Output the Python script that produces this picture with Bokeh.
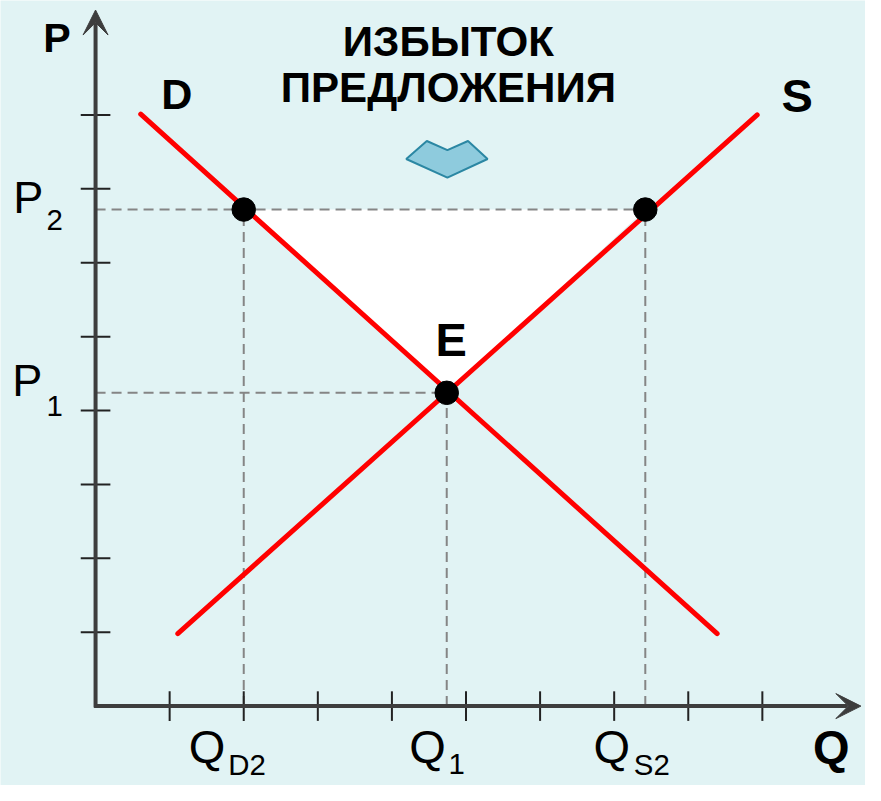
from bokeh.plotting import figure
from bokeh.models import Range1d, Arrow, VeeHead
from bokeh.core.properties import value
from bokeh.embed import file_html
from bokeh.resources import INLINE

# ---------------- data ----------------
q_ticks = [1, 2, 3, 4, 5, 6, 7, 8, 9]
p_ticks = [1, 2, 3, 4, 5, 6, 7, 8]
demand_q = [0.61, 8.39]
demand_p = [8.01, 0.98]
supply_q = [1.11, 8.93]
supply_p = [0.98, 8.00]
q_d2, q_1, q_s2 = 2.0, 4.74, 7.42
p_1, p_2 = 4.24, 6.72
title_lines = ["ИЗБЫТОК", "ПРЕДЛОЖЕНИЯ"]
q_labels = ["Q", "Q", "Q"]
q_subs = ["D2", "1", "S2"]
p_labels = ["P", "P"]
p_subs = ["2", "1"]

# ---------------- styling ----------------
BG = "#e1f3f4"
AX = "#3d3d3d"
RED = "#ff0000"
DASH = "#858585"
FONT = "Liberation Sans"
K = 0.98                     # overall scale so the drawing fits the canvas
RX, RY = 75.6, 75.4          # reference px per unit
SX, SY = RX * K, RY * K      # canvas px per unit


def fs(px):
    return f"{px * K:.1f}px"


W, H = 865, 785
x0 = -97 / RX
y1 = 720 / RY
p = figure(width=W, height=H,
           x_range=Range1d(x0, x0 + W / SX),
           y_range=Range1d(y1 - H / SY, y1),
           output_backend="svg", toolbar_location=None,
           x_axis_location=None, y_axis_location=None, min_border=0)
p.grid.visible = False
p.outline_line_color = None
p.background_fill_color = BG
p.border_fill_color = BG

# surplus triangle
p.patch([q_d2, q_s2, q_1], [p_2, p_2, p_1], fill_color="white", line_color=None)

# dashed guide lines
p.segment(x0=[0, 0, q_d2, q_1, q_s2], y0=[p_2, p_1, 0, 0, 0],
          x1=[q_s2, q_1, q_d2, q_1, q_s2], y1=[p_2, p_1, p_2, p_1, p_2],
          line_color=DASH, line_width=2, line_dash="10 6")

# tick marks
p.segment(x0=q_ticks, y0=[-0.2] * len(q_ticks), x1=q_ticks, y1=[0.2] * len(q_ticks),
          line_color="#222222", line_width=2)
p.segment(x0=[-0.2] * len(p_ticks), y0=p_ticks, x1=[0.2] * len(p_ticks), y1=p_ticks,
          line_color="#222222", line_width=2)

# axes with arrows
p.add_layout(Arrow(end=VeeHead(size=25, fill_color=AX, line_color=AX),
                   x_start=0, y_start=-0.02, x_end=0, y_end=9.42,
                   line_color=AX, line_width=4))
p.add_layout(Arrow(end=VeeHead(size=25, fill_color=AX, line_color=AX),
                   x_start=-0.02, y_start=0, x_end=10.33, y_end=0,
                   line_color=AX, line_width=4))

# demand and supply
p.line(demand_q, demand_p, line_color=RED, line_width=5, line_cap="round")
p.line(supply_q, supply_p, line_color=RED, line_width=5, line_cap="round")

# points
p.scatter([q_d2, q_s2, q_1], [p_2, p_2, p_1], size=24 * K, fill_color="black", line_color="black")

# chevron arrow (down)
cx, cy = 4.749, 7.404
shape_px = [(-42, 0), (-21, -18.4), (0, -9), (21, -18.4), (41, 0), (0, 19)]
p.patch([cx + dx / RX for dx, dy in shape_px], [cy - dy / RY for dx, dy in shape_px],
        fill_color="#8ecbdd", line_color="#2b87a3", line_width=2)

common = dict(text_baseline="middle", text_color="black")

# title
p.text(x=[4.762, 4.762], y=[8.992, 8.369], text=title_lines,
       text_font=value(FONT), text_font_style="bold", text_font_size=fs(43),
       text_align="center", **common)

# bold letters
p.text(x=[-0.522], y=[9.045], text=["P"],
       text_font=value(FONT), text_font_style="bold", text_font_size=fs(42),
       text_align="center", **common)
p.text(x=[1.098], y=[8.289], text=["D"],
       text_font=value(FONT), text_font_style="bold", text_font_size=fs(44),
       text_align="center", **common)
p.text(x=[9.47, 4.80, 9.93], y=[8.269, 4.96, -0.55], text=["S", "E", "Q"],
       text_font=value(FONT), text_font_style="bold", text_font_size=fs(48),
       text_align="center", **common)

# price labels
p.text(x=[-1.111, -1.124], y=[6.877, 4.403], text=p_labels,
       text_font=value(FONT), text_font_size=fs(46),
       text_align="left", **common)
p.text(x=[-0.661, -0.661], y=[6.572, 4.058], text=p_subs,
       text_font=value(FONT), text_font_size=fs(30),
       text_align="left", **common)

# quantity labels
p.text(x=[1.257, 4.233, 6.72], y=[-0.55, -0.55, -0.55], text=q_labels,
       text_font=value(FONT), text_font_size=fs(48),
       text_align="left", **common)
p.text(x=[1.79, 4.765, 7.265], y=[-0.79, -0.79, -0.79], text=q_subs,
       text_font=value(FONT), text_font_size=fs(30),
       text_align="left", **common)

open("out.html", "w").write(file_html(p, INLINE))
